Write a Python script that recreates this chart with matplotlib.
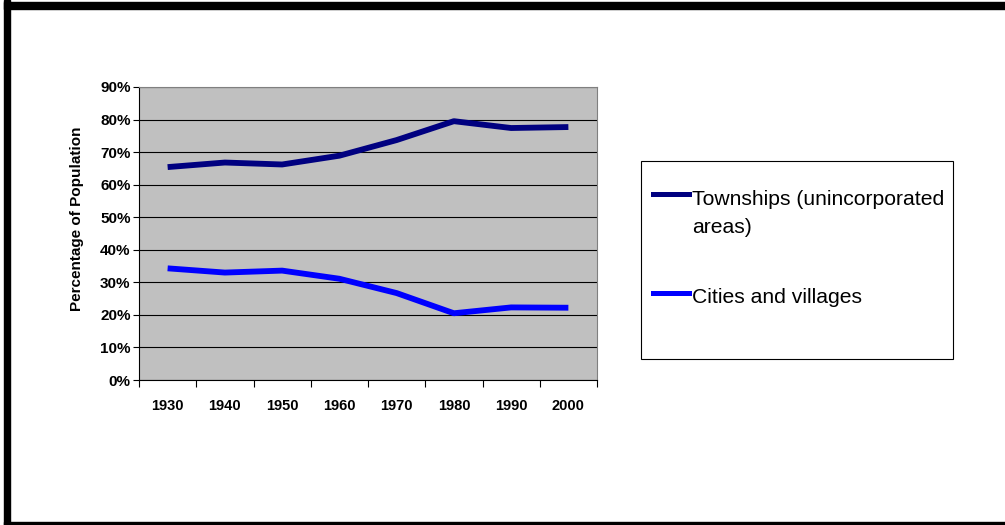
import numpy as np
import matplotlib
matplotlib.use('Agg')
import matplotlib.pyplot as plt
from matplotlib.patches import Rectangle
from matplotlib.lines import Line2D
from matplotlib.ticker import FixedLocator, PercentFormatter

#####################################################################
# data
#####################################################################
years = ['1930', '1940', '1950', '1960', '1970', '1980', '1990', '2000']
townships = [65.4, 66.8, 66.2, 68.9, 73.7, 79.5, 77.4, 77.7]
cities = [34.3, 33.0, 33.6, 31.1, 26.7, 20.5, 22.3, 22.2]
labels = ['Townships (unincorporated\nareas)', 'Cities and villages']
colors = ['#000080', '#0000FF']

plt.rcParams['font.family'] = ['Liberation Sans', 'DejaVu Sans']

#####################################################################
# plot
#####################################################################
fig = plt.figure(figsize=(10.05, 5.25), dpi=100)
W, H = 1005.0, 525.0
ax = fig.add_axes([139 / W, 1 - 380 / H, (597 - 139) / W, (380 - 87) / H])
ax.set_facecolor('#C0C0C0')

x = np.arange(len(years))
for vals, c in zip([townships, cities], colors):
    ax.plot(x, vals, color=c, lw=4.2, solid_capstyle='butt', zorder=3)

ax.set_xlim(-0.5, len(years) - 0.5)
ax.set_ylim(0, 90)
ax.yaxis.set_major_locator(FixedLocator(np.arange(0, 91, 10)))
ax.yaxis.set_major_formatter(PercentFormatter(decimals=0))
ax.grid(axis='y', color='black', lw=0.8, zorder=1)
ax.set_axisbelow(True)

# ticks between categories, labels at centers
ax.set_xticks(np.arange(-0.5, len(years), 1.0))
ax.set_xticklabels([])
ax.set_xticks(x, minor=True)
ax.set_xticklabels(years, minor=True, fontsize=10.5, fontweight='bold')
ax.tick_params(axis='x', which='major', length=5, width=0.8, direction='out')
ax.tick_params(axis='x', which='minor', length=0, pad=14)
ax.tick_params(axis='y', length=4, width=0.8, pad=2, labelsize=11)
for t in ax.get_yticklabels():
    t.set_fontweight('bold')

for s in ['top', 'right']:
    ax.spines[s].set_color('#808080')
for s in ['left', 'bottom']:
    ax.spines[s].set_color('black')
    ax.spines[s].set_linewidth(0.8)

ax.set_ylabel('Percentage of Population', fontsize=11, fontweight='bold')
ax.yaxis.set_label_coords(-0.12, 0.551)

#####################################################################
# legend box (drawn by hand, handle aligned to first text line)
#####################################################################
fig.patches.append(Rectangle((641 / W, 1 - 359 / H), 312 / W, 198 / H,
                             transform=fig.transFigure, facecolor='white',
                             edgecolor='black', lw=0.8))
handle_y = [194, 293]
text_y = [205, 303]
for lab, c, hy, ty in zip(labels, colors, handle_y, text_y):
    fig.add_artist(Line2D([653 / W, 689 / W], [1 - hy / H, 1 - hy / H],
                          transform=fig.transFigure, color=c, lw=3.6))
    lines = lab.split('\n')
    for i, part in enumerate(lines):
        fig.text(692 / W, 1 - (ty + 28 * i) / H, part, fontsize=15.2,
                 va='baseline', ha='left')

# outer frame of the chart
fig.patches.append(Rectangle((4 / W, 0), 6 / W, 1, transform=fig.transFigure, color='black'))
fig.patches.append(Rectangle((4 / W, 1 - 9 / H), 1, 7 / H, transform=fig.transFigure, color='black'))
fig.patches.append(Rectangle((4 / W, 0), 1, 3 / H, transform=fig.transFigure, color='black'))

plt.savefig('out.png', dpi=100)
